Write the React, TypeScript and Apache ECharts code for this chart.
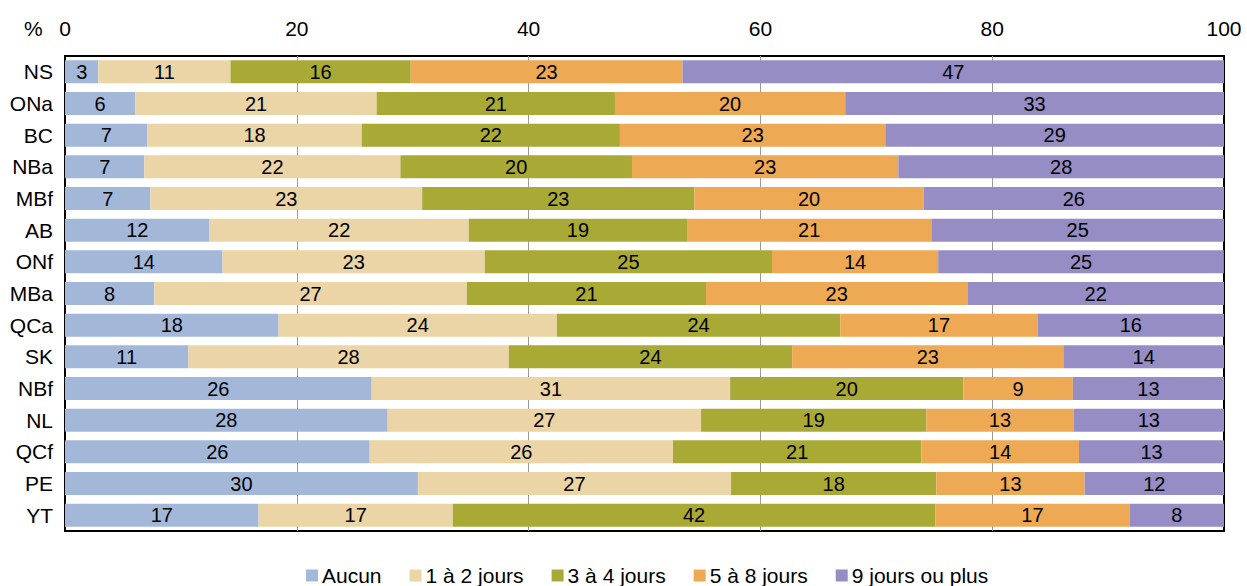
import React, { useEffect, useRef } from "react";
import * as echarts from "echarts";

const categories = ["NS", "ONa", "BC", "NBa", "MBf", "AB", "ONf", "MBa", "QCa", "SK", "NBf", "NL", "QCf", "PE", "YT"];
const seriesNames = ["Aucun", "1 à 2 jours", "3 à 4 jours", "5 à 8 jours", "9 jours ou plus"];
const aucun = [2.88, 6.07, 7.11, 6.85, 7.37, 12.47, 13.59, 7.71, 18.43, 10.65, 26.46, 27.84, 26.29, 30.45, 16.7];
const jours1a2 = [11.4, 20.82, 18.49, 22.09, 23.45, 22.37, 22.63, 26.96, 24.01, 27.64, 30.93, 27.04, 26.17, 27.02, 16.76];
const jours3a4 = [15.55, 20.56, 22.28, 19.98, 23.49, 18.83, 24.78, 20.64, 24.45, 24.45, 20.12, 19.44, 21.43, 17.71, 41.64];
const jours5a8 = [23.45, 19.87, 22.9, 22.98, 19.78, 21.08, 14.34, 22.55, 17.02, 23.4, 9.45, 12.7, 13.6, 12.79, 16.75];
const jours9plus = [46.72, 32.68, 29.22, 28.1, 25.91, 25.25, 24.65, 22.14, 16.09, 13.86, 13.04, 12.98, 12.51, 12.03, 8.15];
const xTicks = [0, 20, 40, 60, 80, 100];
const colors = ["#A3B8D9", "#EBD4A5", "#A9AA35", "#EEA955", "#958DC4"];

const FONT = "Liberation Sans, Arial, sans-serif";

export default function App() {
  const ref = useRef<HTMLDivElement>(null);
  useEffect(() => {
    document.body.style.margin = "0";
    if (!ref.current) return;
    const chart = echarts.init(ref.current, undefined, { renderer: "svg" });
    const allData = [aucun, jours1a2, jours3a4, jours5a8, jours9plus];
    chart.setOption({
      animation: false,
      textStyle: { fontFamily: FONT },
      grid: {
        left: 65,
        right: 23,
        top: 56,
        height: 475,
        show: true,
        borderColor: "#000",
        borderWidth: 2,
        backgroundColor: "transparent",
      },
      legend: {
        data: seriesNames,
        left: 301,
        top: 560,
        itemWidth: 12,
        itemHeight: 12,
        itemGap: 28,
        icon: "rect",
        textStyle: { fontSize: 21, color: "#000", fontFamily: FONT, padding: [0, 0, 0, -1] },
      },
      graphic: [
        {
          type: "text",
          left: 24,
          top: 18,
          style: { text: "%", fontSize: 21, fill: "#000", fontFamily: FONT },
        },
      ],
      xAxis: {
        type: "value",
        position: "top",
        min: xTicks[0],
        max: xTicks[xTicks.length - 1],
        interval: 20,
        axisLine: { show: false },
        axisTick: { show: false },
        axisLabel: { fontSize: 21, color: "#000", margin: 17, fontFamily: FONT },
        splitLine: {
          show: true,
          showMinLine: false,
          showMaxLine: false,
          lineStyle: { color: "#999", width: 1 },
        },
      },
      yAxis: {
        type: "category",
        data: categories,
        inverse: true,
        axisLine: { show: false },
        axisTick: { show: false },
        axisLabel: { fontSize: 21, color: "#000", margin: 12, fontFamily: FONT },
      },
      series: seriesNames.map((name, i) => ({
        name,
        type: "bar",
        stack: "total",
        barWidth: 23,
        data: allData[i],
        itemStyle: { color: colors[i] },
        label: {
          show: true,
          position: "inside",
          fontSize: 20,
          color: "#000",
          fontFamily: FONT,
          formatter: (p: any) => String(Math.round(p.value)),
        },
      })),
    });
    return () => chart.dispose();
  }, []);
  return <div ref={ref} style={{ width: 1247, height: 586 }} />;
}
